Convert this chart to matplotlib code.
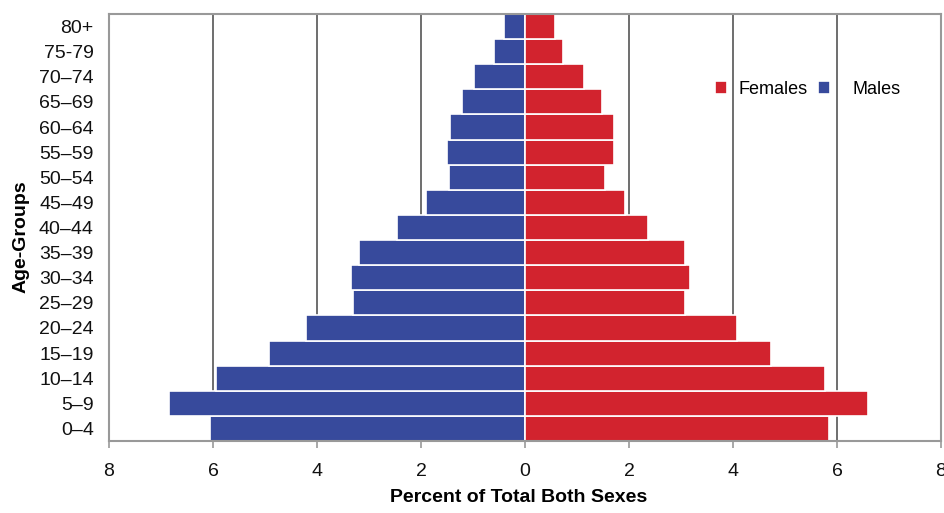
import numpy as np
import matplotlib
matplotlib.use('Agg')
import matplotlib.pyplot as plt

plt.rcParams['font.family'] = ['Liberation Sans', 'DejaVu Sans']

grupos = ['0–4', '5–9', '10–14', '15–19', '20–24', '25–29', '30–34', '35–39',
          '40–44', '45–49', '50–54', '55–59', '60–64', '65–69', '70–74',
          '75-79', '80+']
hombres = [6.06, 6.84, 5.95, 4.92, 4.22, 3.31, 3.34, 3.20,
           2.47, 1.90, 1.46, 1.50, 1.44, 1.21, 0.98, 0.60, 0.40]
mujeres = [5.84, 6.60, 5.76, 4.74, 4.08, 3.08, 3.18, 3.08,
           2.37, 1.92, 1.54, 1.71, 1.71, 1.48, 1.13, 0.73, 0.58]
ticks = [-8, -6, -4, -2, 0, 2, 4, 6, 8]

azul = '#374a9c'
rojo = '#d2232e'

fig = plt.figure(figsize=(9.44, 5.13), dpi=100)
ax = fig.add_axes([0.1155, 0.1404, 0.8813, 0.8323])

y = np.arange(len(grupos))
for g in [-6, -4, -2, 2, 4, 6]:
    ax.axvline(g, color='#555555', lw=1.2, zorder=1)

b_m = ax.barh(y, [-h for h in hombres], height=1.0, color=azul, edgecolor='white',
              linewidth=1.2, label='Males', zorder=2)
b_f = ax.barh(y, mujeres, height=1.0, color=rojo, edgecolor='white',
              linewidth=1.2, label='Females', zorder=2)

ax.set_xlim(-8, 8)
ax.set_ylim(-0.5, len(grupos) - 0.5)
ax.set_xticks(ticks)
ax.set_xticklabels([str(abs(t)) for t in ticks])
ax.set_yticks(y)
ax.set_yticklabels(grupos)
ax.tick_params(axis='y', length=0, pad=11, labelsize=14, colors='#111111')
ax.tick_params(axis='x', length=5, width=1.2, color='#999999', pad=11,
               labelsize=14, labelcolor='#111111')
for s in ax.spines.values():
    s.set_color('#999999')
    s.set_linewidth(1.5)

ax.set_xlabel('Percent of Total Both Sexes', fontsize=14, fontweight='bold')
ax.xaxis.set_label_coords(0.492, -0.112)
ax.set_ylabel('Age-Groups', fontsize=14, fontweight='bold')
ax.yaxis.set_label_coords(-0.095, 0.478)

# leyenda en dos piezas para separar Males un poco mas
leg1 = ax.legend([b_f], ['Females'], frameon=False, loc='center left',
                 bbox_to_anchor=(0.728, 0.824), borderpad=0, borderaxespad=0,
                 handlelength=0.7, handleheight=0.7, handletextpad=0.62, fontsize=13)
ax.add_artist(leg1)
ax.legend([b_m], ['Males'], frameon=False, loc='center left',
          bbox_to_anchor=(0.852, 0.824), borderpad=0, borderaxespad=0,
          handlelength=0.7, handleheight=0.7, handletextpad=1.23, fontsize=13)

fig.savefig('out.png', dpi=100)
